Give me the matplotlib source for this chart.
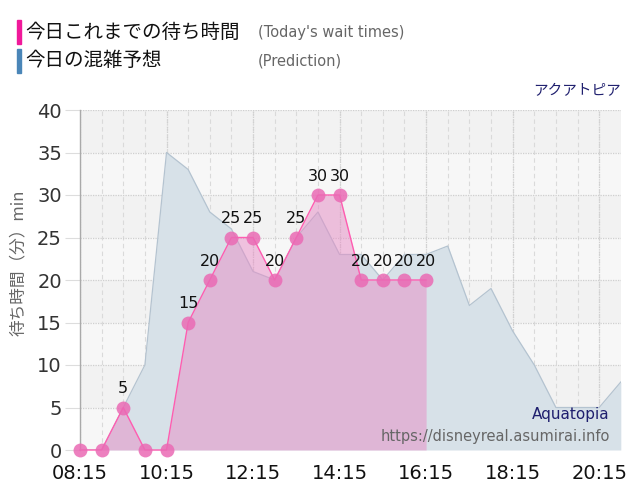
import matplotlib
matplotlib.use("Agg")
from matplotlib import pyplot as plt
from matplotlib.patches import Rectangle
import numpy as np

# today's observed wait times (every 30 min)
wait_times = ["08:15", "08:45", "09:15", "09:45", "10:15", "10:45", "11:15", "11:45",
              "12:15", "12:45", "13:15", "13:45", "14:15", "14:45", "15:15", "15:45", "16:15"]
wait_values = [0, 0, 5, 0, 0, 15, 20, 25, 25, 20, 25, 30, 30, 20, 20, 20, 20]

# prediction curve
pred_times = ["08:15", "08:45", "09:15", "09:45", "10:15", "10:45", "11:15", "11:45",
              "12:15", "12:45", "13:15", "13:45", "14:15", "14:45", "15:15", "15:45",
              "16:15", "16:45", "17:15", "17:45", "18:15", "18:45", "19:15", "19:45",
              "20:15", "20:45"]
pred_values = [0, 0, 5, 10, 35, 33, 28, 26, 21, 20, 25, 28, 23, 23, 20, 23,
               23, 24, 17, 19, 14, 10, 5, 5, 5, 8]

tick_labels = ["08:15", "10:15", "12:15", "14:15", "16:15", "18:15", "20:15"]


def to_hours(t):
    h, m = t.split(":")
    return int(h) + int(m) / 60.0


wx = np.array([to_hours(t) for t in wait_times])
wy = np.array(wait_values)
px = np.array([to_hours(t) for t in pred_times])
py = np.array(pred_values)

JP = ["Noto Sans CJK JP", "DejaVu Sans"]
NUM = ["DejaVu Sans", "Noto Sans CJK JP"]

fig = plt.figure(figsize=(6.4, 5.0), dpi=100)
ax = fig.add_axes([0.125, 0.10, 0.845, 0.68])

xmin, xmax = 8.25, 20.75
ax.set_xlim(xmin, xmax)
ax.set_ylim(0, 40)

# alternating bands
for i, lo in enumerate(range(0, 40, 5)):
    c = "#f7f7f7" if i % 2 == 0 else "#f2f2f2"
    ax.axhspan(lo, lo + 5, color=c, zorder=0, lw=0)

# grid
for h in np.arange(8.75, 20.75, 0.5):
    ax.axvline(h, color="#dadada", lw=0.8, ls=(0, (4, 3)), zorder=1)
for h in [to_hours(t) for t in tick_labels]:
    ax.axvline(h, color="#d0d0d0", lw=0.9, ls=(0, (1, 1)), zorder=1)
for v in range(5, 41, 5):
    ax.axhline(v, color="#cfcfcf", lw=0.9, ls=(0, (1, 1)), zorder=1)

# prediction area
ax.fill_between(px, 0, py, color="#d7e1e8", zorder=2, lw=0)
ax.plot(px, py, color="#b4c3d0", lw=0.9, zorder=3)

# today's wait times
ax.fill_between(wx, 0, wy, color="#e88cc6", alpha=0.5, zorder=4, lw=0)
ax.plot(wx, wy, color="#ff5cb0", lw=1.0, zorder=5, clip_on=False)
ax.plot(wx, wy, ls="none", marker="o", ms=10, color="#ea6ab4", alpha=0.85,
        mec="none", zorder=6, clip_on=False)
for x, y in zip(wx, wy):
    if y > 0:
        ax.text(x, y + 1.3, str(y), ha="center", va="bottom", fontsize=11.5,
                color="#111111", family=NUM, zorder=7)

# axes style
for s in ["top", "right", "bottom"]:
    ax.spines[s].set_visible(False)
ax.spines["left"].set_color("#aaaaaa")
ax.spines["left"].set_linewidth(1.0)
ax.set_yticks(range(0, 41, 5))
ax.set_xticks([to_hours(t) for t in tick_labels])
ax.set_xticklabels(tick_labels)
ax.tick_params(axis="y", length=11, color="#dddddd", labelsize=14,
               labelcolor="#333333", pad=2)
ax.tick_params(axis="x", length=0, labelsize=14, labelcolor="#111111", pad=10)
for lab in ax.get_xticklabels() + ax.get_yticklabels():
    lab.set_family(NUM)
ax.set_ylabel("待ち時間（分）min", fontsize=12, color="#666666", family=JP,
              labelpad=4)
ax.yaxis.set_label_coords(-0.098, 0.55)

# watermark texts
ax.text(0.98, 0.105, "Aquatopia", transform=ax.transAxes, ha="right", va="center",
        fontsize=11, color="#1f1f6e", family=NUM, zorder=8)
ax.text(0.98, 0.04, "https://disneyreal.asumirai.info", transform=ax.transAxes,
        ha="right", va="center", fontsize=10.5, color="#666666", family=NUM, zorder=8)

# header legend
fig.patches.append(Rectangle((17 / 640, 1 - 44 / 500), 4 / 640, 24 / 500,
                             transform=fig.transFigure, color="#f0199a"))
fig.patches.append(Rectangle((17 / 640, 1 - 73 / 500), 4 / 640, 24 / 500,
                             transform=fig.transFigure, color="#4a86b8"))
fig.text(25 / 640, 1 - 32 / 500, "今日これまでの待ち時間", fontsize=14, color="#111111",
         family=JP, va="center")
fig.text(258 / 640, 1 - 32 / 500, "(Today's wait times)", fontsize=10.5,
         color="#666666", family=NUM, va="center")
fig.text(25 / 640, 1 - 61 / 500, "今日の混雑予想", fontsize=14, color="#111111",
         family=JP, va="center")
fig.text(258 / 640, 1 - 61 / 500, "(Prediction)", fontsize=10.5, color="#666666",
         family=NUM, va="center")
fig.text(621 / 640, 1 - 91 / 500, "アクアトピア", fontsize=10.5, color="#1f1f6e",
         family=JP, ha="right", va="center")

fig.savefig("out.png", dpi=100)
